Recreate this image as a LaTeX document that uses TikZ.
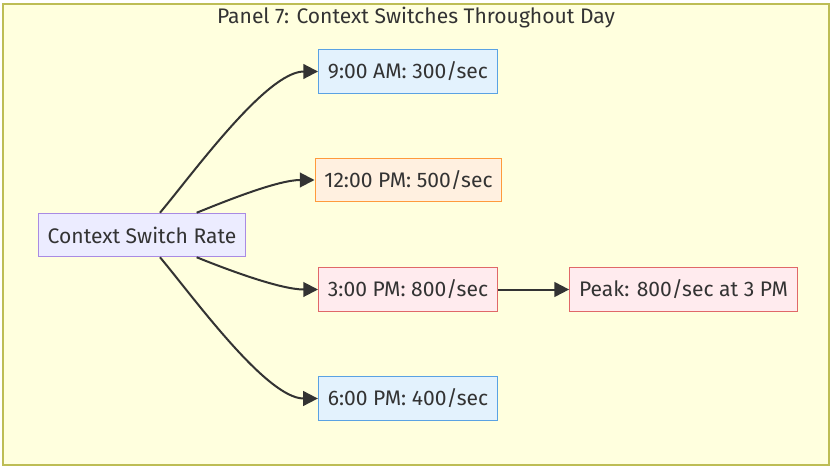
\documentclass[tikz,border=0pt]{standalone}
\usepackage{fontspec}
\setmainfont{Fira Sans}
\usetikzlibrary{arrows.meta}
\definecolor{panelfill}{HTML}{FFFFDE}
\definecolor{paneldraw}{HTML}{BDBD55}
\definecolor{ink}{HTML}{333333}
\definecolor{srcfill}{HTML}{ECECFF}
\definecolor{srcdraw}{HTML}{A98BE3}
\definecolor{bluefill}{HTML}{E3F2FD}
\definecolor{bluedraw}{HTML}{5AA2E3}
\definecolor{orangefill}{HTML}{FFF0E0}
\definecolor{orangedraw}{HTML}{FF9A3C}
\definecolor{redfill}{HTML}{FFEBEE}
\definecolor{reddraw}{HTML}{E06868}
\tikzset{
  box/.style={draw,line width=0.9pt,minimum height=32.5pt,inner xsep=7pt,text=ink,font=\fontsize{15.8}{18}\selectfont},
  srcbox/.style={box,fill=srcfill,draw=srcdraw},
  bluebox/.style={box,fill=bluefill,draw=bluedraw},
  orangebox/.style={box,fill=orangefill,draw=orangedraw},
  redbox/.style={box,fill=redfill,draw=reddraw},
  flow/.style={draw=ink,line width=1.5pt,-{Triangle[length=11pt,width=11pt]}}
}
\begin{document}
\begin{tikzpicture}[x=0.75pt,y=0.75pt]
\useasboundingbox (0,0) rectangle (832,-467);
\fill[white] (0,0) rectangle (832,-467);
\filldraw[fill=panelfill,draw=paneldraw,line width=0.9pt] (3,-4) rectangle (829,-465);
\node[text=ink,font=\fontsize{15.8}{18}\selectfont] (title) at (416,-18) {Panel 7: Context Switches Throughout Day};
\node[srcbox] (rate) at (142,-235) {Context Switch Rate};
\node[bluebox] (am9) at (408,-71.5) {9:00 AM: 300/sec};
\node[orangebox] (pm12) at (408.5,-180) {12:00 PM: 500/sec};
\node[redbox] (pm3) at (408,-289.5) {3:00 PM: 800/sec};
\node[redbox] (peak) at (683.5,-289.5) {Peak: 800/sec at 3 PM};
\node[bluebox] (pm6) at (408,-398.5) {6:00 PM: 400/sec};
\draw[flow] ([xshift=13.5pt]rate.north) to[out=50,in=180,looseness=0.62] (am9.west);
\draw[flow] ([xshift=41pt]rate.north) to[out=22,in=180,looseness=0.75] (pm12.west);
\draw[flow] ([xshift=41pt]rate.south) to[out=-22,in=180,looseness=0.75] (pm3.west);
\draw[flow] ([xshift=13.5pt]rate.south) to[out=-50,in=180,looseness=0.62] (pm6.west);
\draw[flow] (pm3) -- (peak);
\end{tikzpicture}
\end{document}
